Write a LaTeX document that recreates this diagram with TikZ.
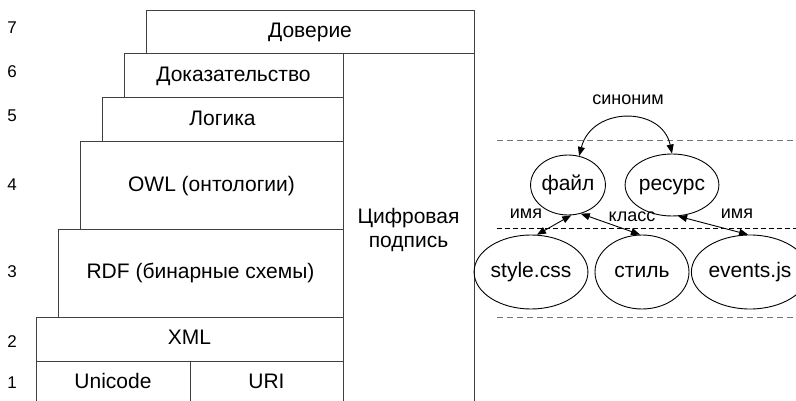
\documentclass[tikz,border=0pt]{standalone}
\usepackage{fontspec}
\setmainfont{Liberation Sans}
\usetikzlibrary{shapes.geometric,arrows.meta}

\begin{document}
\begin{tikzpicture}[x=1pt,y=-1pt,
  layerbox/.style={draw=black!75, line width=1pt, inner sep=0pt, align=center,
    font=\fontsize{21}{24}\selectfont},
  layer/.style={layerbox, text height=15pt, text depth=4.5pt},
  num/.style={inner sep=0pt, font=\fontsize{17}{19}\selectfont},
  concept/.style={ellipse, draw=black, line width=0.9pt, inner sep=0pt,
    text height=15pt, text depth=4.5pt, font=\fontsize{21}{24}\selectfont},
  rel/.style={inner sep=0pt, font=\fontsize{18}{22}\selectfont},
  link/.style={{Triangle[length=9pt,width=7pt]}-{Triangle[length=9pt,width=7pt]}, line width=0.9pt},
  level/.style={dash pattern=on 6pt off 4pt, line width=1pt}
]
\useasboundingbox (0,0) rectangle (796,401);
\clip (0,0) rectangle (796,401);

% layer stack
\node[layer, minimum width=328pt, minimum height=43pt] (trust) at (310,32.5) {Доверие};
\node[layer, minimum width=219pt, minimum height=44pt] (proof) at (233.5,76) {Доказательство};
\node[layer, minimum width=241pt, minimum height=44pt] (logic) at (222.5,120) {Логика};
\node[layer, minimum width=263pt, minimum height=88pt] (owl) at (211.5,186) {OWL (онтологии)};
\node[layer, minimum width=285pt, minimum height=87pt] (rdf) at (200.5,273.5) {RDF (бинарные схемы)};
\node[layer, minimum width=307pt, minimum height=44pt] (xml) at (189.5,339) {XML};
\node[layer, minimum width=154pt, minimum height=44pt] (unicode) at (113,383) {Unicode};
\node[layer, minimum width=153pt, minimum height=44pt] (uri) at (266.5,383) {URI};
\node[layerbox, minimum width=131pt, minimum height=351pt] (sig) at (408.5,229.5) {Цифровая\\подпись};

% level numbers
\node[num] (n7) at (12,28) {7};
\node[num] (n6) at (12,72) {6};
\node[num] (n5) at (12,116) {5};
\node[num] (n4) at (12,185) {4};
\node[num] (n3) at (12,272) {3};
\node[num] (n2) at (12,342) {2};
\node[num] (n1) at (12,383) {1};

% graph levels
\coordinate (l1a) at (497,141);  \coordinate (l1b) at (796,141);
\coordinate (l2a) at (497,229);  \coordinate (l2b) at (796,229);
\coordinate (l3a) at (497,317);  \coordinate (l3b) at (796,317);
\draw[level, draw=black!55] (l1a) -- (l1b);
\draw[level, draw=black, dash pattern=on 5pt off 3pt] (l2a) -- (l2b);
\draw[level, draw=black!55] (l3a) -- (l3b);

% concepts
\node[concept, minimum width=68pt, minimum height=60pt] (file) at (568,185) {файл};
\node[concept, minimum width=80pt, minimum height=62pt] (res) at (672,185) {ресурс};
\node[concept, minimum width=94pt, minimum height=74pt] (css) at (531,272) {style.css};
\node[concept, minimum width=94pt, minimum height=74pt] (style) at (642,272) {стиль};
\node[concept, minimum width=94pt, minimum height=74pt] (js) at (750,272) {events.js};

% relations
\draw[link] (file.69) .. controls (592,106) and (662,106) .. (res.90);
\draw[link] (css.81) -- (file.-84);
\draw[link] (style.93) -- (file.-66);
\draw[link] (js.93) -- (res.-79);

\node[rel] (syn) at (628,100) {синоним};
\node[rel] (name1) at (526,214) {имя};
\node[rel] (cls) at (632,217) {класс};
\node[rel] (name2) at (737,214) {имя};
\end{tikzpicture}
\end{document}
